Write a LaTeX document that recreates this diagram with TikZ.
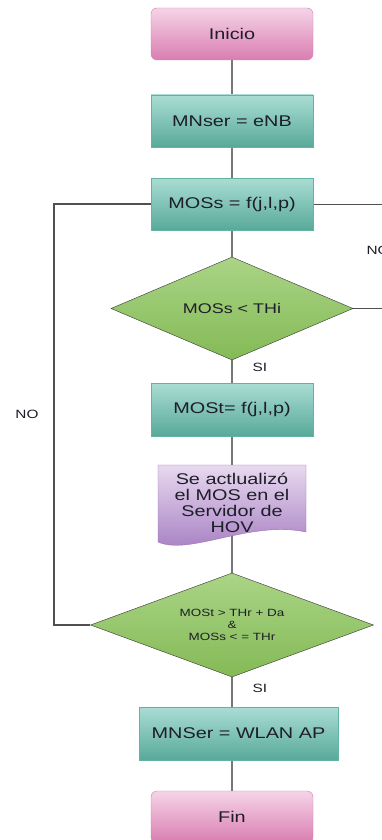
\documentclass[tikz,border=0pt]{standalone}
\usepackage{fontspec}
\setmainfont[FakeStretch=1.28]{Liberation Sans}
\usetikzlibrary{shapes.geometric,backgrounds}

\definecolor{tealtop}{HTML}{AADDD4}
\definecolor{tealbot}{HTML}{58A999}
\definecolor{tealln}{HTML}{62B3A3}
\definecolor{pinktop}{HTML}{F5D4E7}
\definecolor{pinkbot}{HTML}{D97DB0}
\definecolor{pinkln}{HTML}{D77BAE}
\definecolor{greentop}{HTML}{AAD486}
\definecolor{greenbot}{HTML}{84BA56}
\definecolor{purtop}{HTML}{E8D9EF}
\definecolor{purbot}{HTML}{A27AC0}
\definecolor{purln}{HTML}{9A70B8}
\definecolor{lncol}{HTML}{777777}
\definecolor{loopcol}{HTML}{505050}
\definecolor{txtcol}{HTML}{1E1E2A}

\tikzset{
  procbox/.style={rectangle, draw=tealln, top color=tealtop, bottom color=tealbot,
    minimum width=162pt, minimum height=52pt, text=txtcol,
    font=\fontsize{15.5}{16}\selectfont},
  termbox/.style={procbox, rounded corners=6pt, draw=pinkln,
    top color=pinktop, bottom color=pinkbot},
  decbox/.style={diamond, draw=black!80, top color=greentop, bottom color=greenbot,
    inner sep=0pt, text=txtcol, align=center},
  conn/.style={draw=lncol, line width=2pt},
  loopln/.style={draw=loopcol, line width=1.3pt},
  lbl/.style={text=txtcol, font=\fontsize{12}{12}\selectfont}
}

\begin{document}
\begin{tikzpicture}[x=1pt, y=-1pt]

  \newcommand{\colx}{232}

\useasboundingbox (0,0) rectangle (381,840);

%% main column
\node (ini) at (\colx, 34) [termbox] {Inicio};
\node (mns) at (\colx, 121) [procbox] {MNser = eNB};
\node (moss) at (\colx, 204) [procbox] {MOSs = f(j,l,p)};

\node (thi) at (\colx, 308.5) [decbox, shape aspect=2.35, minimum width=242pt,
  minimum height=103pt, font=\fontsize{14}{14}\selectfont] {MOSs < THi};

\node (most) at (\colx, 409.5) [procbox, minimum height=53pt] {MOSt= f(j,l,p)};

\node (hov) at (\colx, 503) [minimum width=148pt, minimum height=76pt, inner sep=0pt,
  text=txtcol, align=center, font=\fontsize{15.5}{16}\selectfont]
  {Se actlualizó\\el MOS en el\\Servidor de\\HOV};

\node (thr) at (\colx, 625) [decbox, shape aspect=2.72, minimum width=283pt,
  minimum height=104pt, font=\fontsize{10.5}{12}\selectfont]
  {MOSt > THr + Da\\\&\\MOSs < = THr};

\node (wlan) at (238.5, 733.5) [procbox, minimum width=199pt, minimum height=53pt]
  {MNSer = WLAN AP};
\node (fin) at (\colx, 817) [termbox] {Fin};

%% labels
\node (si1) at (260, 367) [lbl] {SI};
\node (si2) at (260, 688) [lbl] {SI};
\node (no1) at (27, 414) [lbl] {NO};
\node (no2) at (363, 250) [lbl, anchor=west] {NO};

\coordinate (lft) at (54, 204);
\coordinate (rgt1) at (385, 204);
\coordinate (rgt2) at (385, 308.5);

\begin{scope}[on background layer]
  \draw[conn] (ini) -- (mns);
  \draw[conn] (mns) -- (moss);
  \draw[conn] (moss) -- (thi);
  \draw[conn] (thi) -- (most);
  \draw[conn] (most.south) -- (hov.center);
  \draw[conn] (hov.center) -- (thr.north);
  \draw[conn] (thr.south) -- (thr.south |- wlan.north);
  \draw[conn] (fin.north |- wlan.south) -- (fin.north);

  \draw[loopln] (thr.west) -| (lft) -- (moss.west);
  \draw[loopln, line width=1pt] (moss.east) -- (rgt1);
  \draw[loopln, line width=1pt] (thi.east) -- (rgt2);

  %% document shape
  \shade[top color=purtop, bottom color=purbot, draw=purln]
    (158,465) -- (306,465) -- (306,532)
    .. controls (250,520) and (190,556) .. (158,542) -- cycle;
\end{scope}

\end{tikzpicture}
\end{document}
